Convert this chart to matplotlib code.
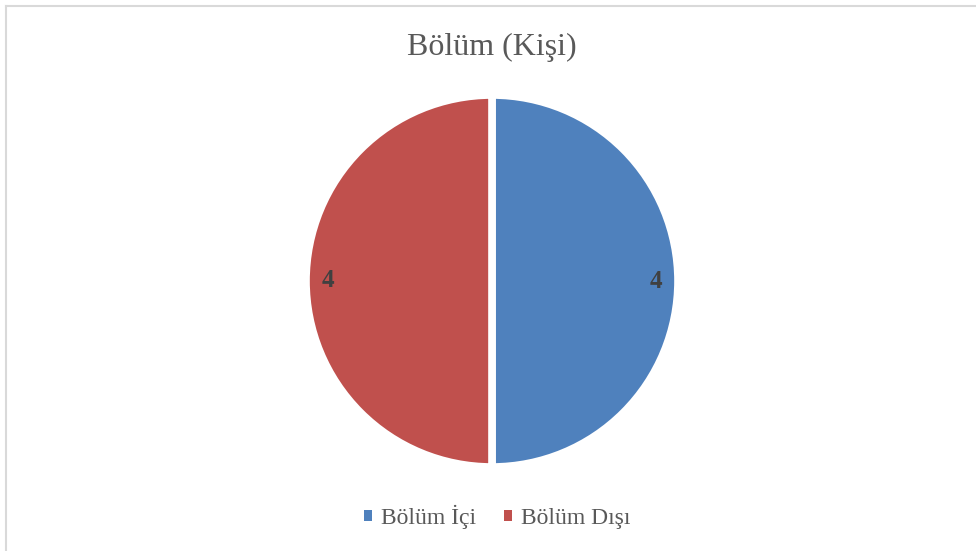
import matplotlib
matplotlib.use("Agg")
import matplotlib.pyplot as plt
from matplotlib.lines import Line2D
from matplotlib.patches import Patch

categories = ["Bölüm İçi", "Bölüm Dışı"]
values = [4, 4]
colors = ["#4F81BD", "#C0504D"]
title = "Bölüm (Kişi)"

W, H = 976, 551
fig = plt.figure(figsize=(W / 100, H / 100), dpi=100)
fig.patch.set_facecolor("white")

# partial frame (top and left visible)
fig.add_artist(Line2D([5.5 / W, 5.5 / W], [0, 1 - 5.5 / H], transform=fig.transFigure,
                      color="#D9D9D9", lw=1.5))
fig.add_artist(Line2D([5.5 / W, 1], [1 - 5.5 / H, 1 - 5.5 / H], transform=fig.transFigure,
                      color="#D9D9D9", lw=1.5))

cx, cy, r = 492, 281, 186
ax = fig.add_axes([(cx - r) / W, (H - cy - r) / H, 2 * r / W, 2 * r / H])
wedges, texts = ax.pie(values, colors=colors, startangle=90, counterclock=False,
                       labels=[str(v) for v in values], labeldistance=0.88,
                       wedgeprops=dict(edgecolor="white", linewidth=5.5))
for t in texts:
    t.set_fontfamily("Liberation Serif")
    t.set_fontweight("bold")
    t.set_fontsize(18)
    t.set_color("#404040")
    t.set_ha("center")
    t.set_va("center")
ax.set_xlim(-1, 1)
ax.set_ylim(-1, 1)
ax.set_aspect("equal")
ax.axis("off")

fig.text(492 / W, 1 - 47 / H, title, ha="center", va="center",
         fontfamily="Liberation Serif", fontsize=23, color="#595959")

handles = [Patch(facecolor=c, edgecolor="none") for c in colors]
fig.legend(handles, categories, loc="center", bbox_to_anchor=(497 / W, 1 - 517 / H),
           ncol=2, frameon=False, handlelength=0.35, handleheight=0.35, handletextpad=0.35,
           columnspacing=1.2,
           prop=dict(family="Liberation Serif", size=17), labelcolor="#595959")

fig.savefig("out.png", dpi=100)
